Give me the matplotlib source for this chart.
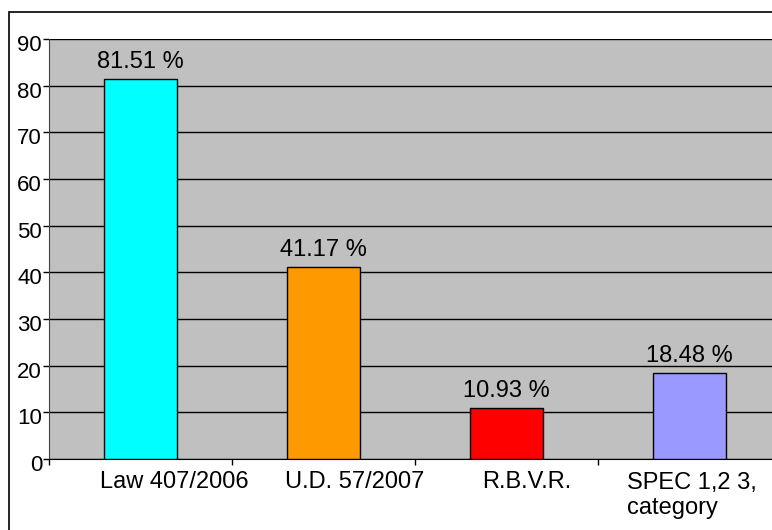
import numpy as np
import matplotlib
matplotlib.use("Agg")
import matplotlib.pyplot as plt
import matplotlib.transforms as mtransforms
from matplotlib.patches import Rectangle

plt.rcParams['font.family'] = ['Liberation Sans', 'DejaVu Sans']

# data
categories = ['Law 407/2006', 'U.D. 57/2007', 'R.B.V.R.', 'SPEC 1,2 3,\ncategory']
values = [81.51, 41.17, 10.93, 18.48]
value_labels = ['81.51 %', '41.17 %', '10.93 %', '18.48 %']
colors = ['#00FFFF', '#FF9900', '#FF0000', '#9999FF']
yticks = [0, 10, 20, 30, 40, 50, 60, 70, 80, 90]

# small horizontal shifts of the category labels, in points
label_shift = [24.5, 22.3, 14.4, 1.4]

W, H = 772, 530
fig = plt.figure(figsize=(W / 100, H / 100), dpi=100)

# outer chart border (runs off the right and bottom edge)
fig.patches.append(Rectangle((9 / W, -0.1), 1.1, 1 - 12 / H + 0.1,
                             transform=fig.transFigure, fill=False,
                             edgecolor='black', linewidth=1.2))

ax = fig.add_axes([49 / W, 71 / H, 732 / W, 420 / H])
ax.set_facecolor('#C0C0C0')

x = np.arange(len(categories))
ax.bar(x, values, width=0.4, color=colors, edgecolor='black', linewidth=1, zorder=3)

ax.set_xlim(-0.5, len(categories) - 0.5)
ax.set_ylim(0, 90)
ax.set_yticks(yticks)
ax.yaxis.grid(True, color='black', linewidth=1, zorder=1)
ax.set_axisbelow(True)

# y tick labels, nudged slightly below their gridlines
ax.set_yticklabels([str(t) for t in yticks], fontsize=16)
ax.tick_params(axis='y', direction='out', length=4, width=1, pad=1, color='black')
for lab in ax.get_yticklabels():
    lab.set_transform(lab.get_transform() +
                      mtransforms.ScaledTranslation(0, -4 / 100, fig.dpi_scale_trans))

# x ticks on category boundaries, no labels
ax.set_xticks(np.arange(len(categories) + 1) - 0.5)
ax.set_xticklabels([])
ax.tick_params(axis='x', direction='out', length=4, width=1, color='black')

for s in ['top', 'right']:
    ax.spines[s].set_visible(False)
ax.spines['left'].set_color('#404040')
ax.spines['bottom'].set_color('black')

# category labels
base = mtransforms.blended_transform_factory(ax.transData, ax.transAxes)
for xi, name, dx in zip(x, categories, label_shift):
    tr = base + mtransforms.ScaledTranslation(dx / 72, -9 / 72, fig.dpi_scale_trans)
    ax.text(xi, 0, name, transform=tr, ha='center', va='top',
            multialignment='left', fontsize=17, linespacing=1.2)

# value labels above bars
for xi, v, lab in zip(x, values, value_labels):
    ax.annotate(lab, (xi, v), xytext=(0, 8), textcoords='offset points',
                ha='center', va='baseline', fontsize=17)

fig.savefig('out.png', dpi=100)
